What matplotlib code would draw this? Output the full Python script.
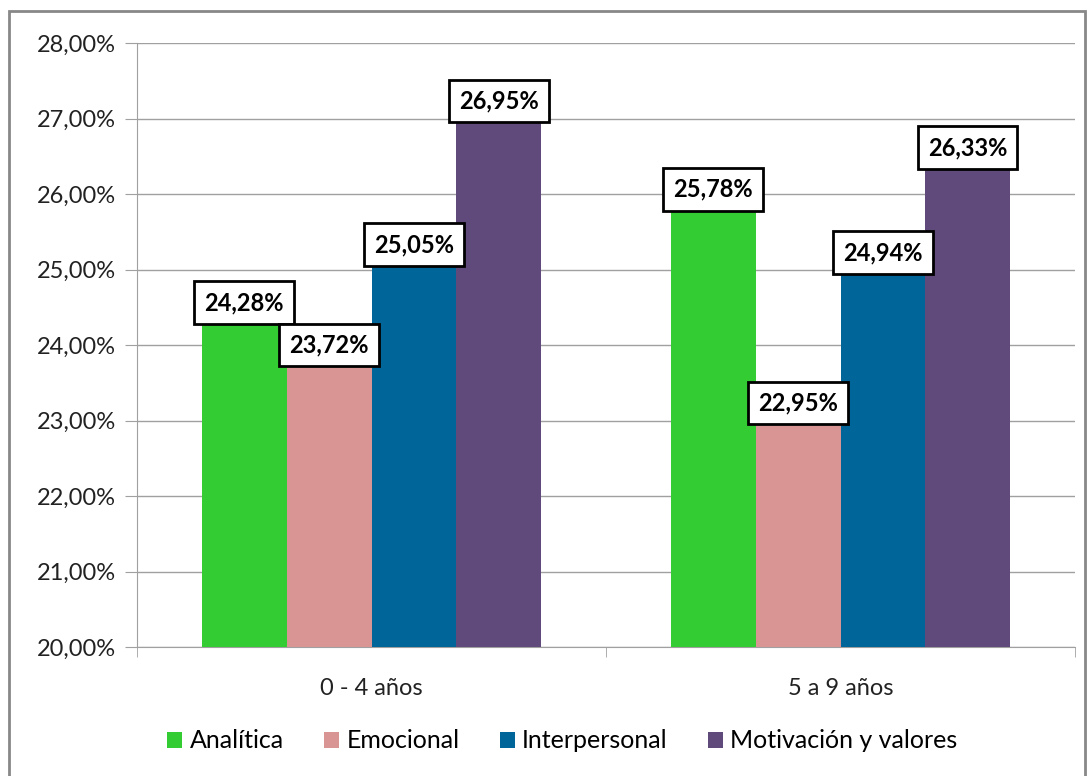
import matplotlib.pyplot as plt
import numpy as np
from matplotlib.patches import Rectangle
from matplotlib.ticker import FuncFormatter

plt.rcParams['font.family'] = ['Lato', 'DejaVu Sans']

# datos
grupos = ['0 - 4 años', '5 a 9 años']
series = ['Analítica', 'Emocional', 'Interpersonal', 'Motivación y valores']
analitica = [24.28, 25.78]
emocional = [23.72, 22.95]
interpersonal = [25.05, 24.94]
motivacion = [26.95, 26.33]
colores = ['#33cc33', '#d99594', '#006699', '#604a7b']

valores = [analitica, emocional, interpersonal, motivacion]

fig = plt.figure(figsize=(10.92, 7.76), dpi=100)
ax = fig.add_axes([137/1092, 1-647/776, (1075-137)/1092, (647-43)/776])

x = np.arange(len(grupos))
w = 0.181
for i, (nombre, vals, c) in enumerate(zip(series, valores, colores)):
    pos = x + (i - 1.5) * w
    ax.bar(pos, vals, width=w, color=c, label=nombre, zorder=3)
    for p, v in zip(pos, vals):
        ax.annotate(f'{v:.2f}%'.replace('.', ','), (p, v), xytext=(0, 7),
                    textcoords='offset points', ha='center', va='bottom',
                    fontsize=17, fontweight='bold', zorder=5,
                    bbox=dict(boxstyle='square,pad=0.42', fc='white', ec='black', lw=2))

ax.set_ylim(20, 28)
ax.set_xlim(-0.5, 1.5)
ax.set_yticks(np.arange(20, 28.01, 1))
ax.yaxis.set_major_formatter(FuncFormatter(lambda v, _: f'{v:.2f}%'.replace('.', ',')))
ax.grid(axis='y', color='#a0a0a0', lw=1, zorder=0)
ax.set_xticks(x)
ax.set_xticklabels(grupos)
ax.set_xticks([-0.5, 0.5, 1.5], minor=True)
ax.tick_params(axis='x', which='major', length=0, pad=22, labelsize=17, colors='#222222')
ax.tick_params(axis='x', which='minor', length=7, color='#a0a0a0')
ax.tick_params(axis='y', length=9, labelsize=17, pad=6)
ax.tick_params(axis='y', colors='#a0a0a0', labelcolor='#222222')
for s in ['top', 'right']:
    ax.spines[s].set_visible(False)
for s in ['left', 'bottom']:
    ax.spines[s].set_color('#a0a0a0')

fig.legend(loc='center', bbox_to_anchor=(0.515, 1-741/776), ncol=4, frameon=False,
           fontsize=18, handlelength=0.6, handleheight=0.6, handletextpad=0.3,
           columnspacing=1.6)

fig.patches.append(Rectangle((9/1092, -0.01), 1076/1092, 1-11/776 + 0.01,
                             transform=fig.transFigure, fill=False, ec='#888888', lw=2))

fig.savefig('out.png', dpi=100)
